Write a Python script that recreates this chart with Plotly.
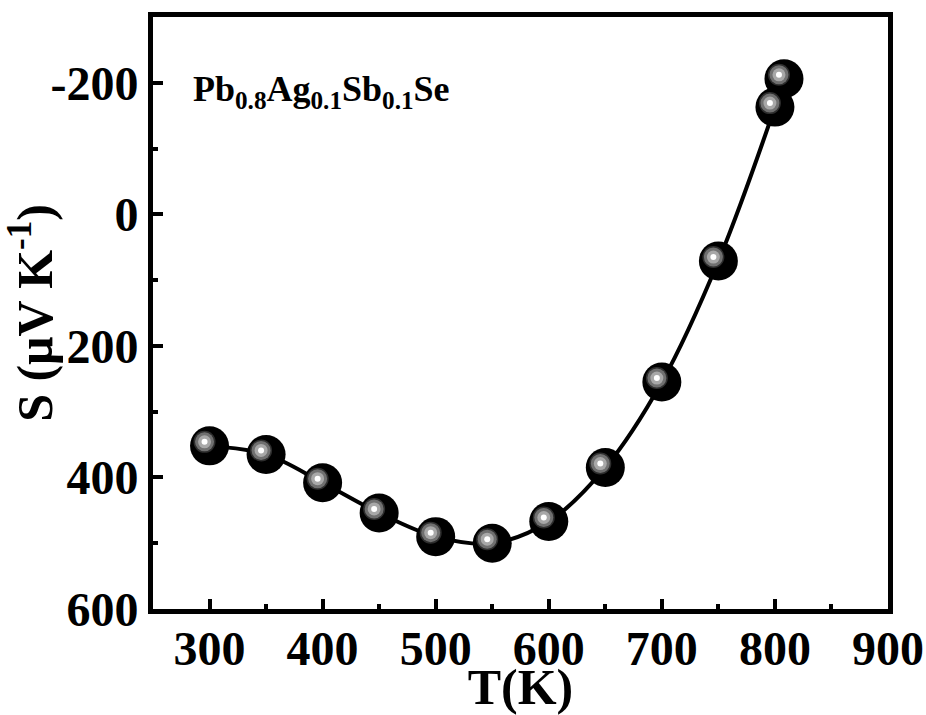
import plotly.graph_objects as go

# Data
temperature = [300, 350, 400, 450, 500, 550, 600, 650, 700, 750, 800, 808]
seebeck = [352, 365, 408, 454, 490, 500, 467, 385, 255, 71, -163, -206]

x_ticks = [300, 400, 500, 600, 700, 800, 900]
y_ticks = [-200, 0, 200, 400, 600]

FONT = "Liberation Serif"

fig = go.Figure()

fig.add_trace(go.Scatter(
    x=temperature, y=seebeck, mode="lines",
    line=dict(color="black", width=4, shape="spline", smoothing=1.0),
    hoverinfo="skip", showlegend=False,
))
fig.add_trace(go.Scatter(
    x=temperature, y=seebeck, mode="markers",
    marker=dict(color="black", size=39, line=dict(width=0)),
    showlegend=False,
))

# sphere highlights (pixel-sized circles anchored at each data point)
highlights = [(22, "#2e2e2e"), (19, "#707070"), (13, "#a8a8a8"), (6, "#ffffff")]
dx, dy = -5, 4  # pixel offset of the highlight (up-left)
for xv, yv in zip(temperature, seebeck):
    for d, col in highlights:
        r = d / 2
        fig.add_shape(
            type="circle", xref="x", yref="y",
            xsizemode="pixel", ysizemode="pixel",
            xanchor=xv, yanchor=yv,
            x0=dx - r, x1=dx + r, y0=dy - r, y1=dy + r,
            fillcolor=col, line=dict(width=0), layer="above",
        )

fig.add_annotation(
    text="<b>Pb<sub>0.8</sub>Ag<sub>0.1</sub>Sb<sub>0.1</sub>Se</b>",
    xref="paper", yref="paper", x=0.052, y=0.874,
    xanchor="left", yanchor="middle", showarrow=False,
    font=dict(family=FONT, size=36, color="black"),
)

axis_common = dict(
    showline=True, linecolor="black", linewidth=5, mirror=True,
    ticks="inside", ticklen=10, tickwidth=4, tickcolor="black",
    showgrid=False, zeroline=False, automargin=False,
    tickfont=dict(family=FONT, size=48, color="black"),
)

fig.update_xaxes(
    range=[250, 900], tickvals=x_ticks,
    ticktext=[f"<b>{v}</b>" for v in x_ticks],
    ticklabelstandoff=-7,
    minor=dict(ticks="inside", ticklen=5, tickwidth=4, tickcolor="black", dtick=50, tick0=250, showgrid=False),
    title=dict(text="<b>T(K)</b>", font=dict(family=FONT, size=50, color="black"), standoff=0),
    **axis_common,
)
fig.update_yaxes(
    range=[600, -300], tickvals=y_ticks,
    ticktext=[f"<b>{v}</b>" for v in y_ticks],
    minor=dict(ticks="inside", ticklen=5, tickwidth=4, tickcolor="black", dtick=100, tick0=-300, showgrid=False),
    title=dict(text="<b>S (μV K<sup>-1</sup>)</b>", font=dict(family=FONT, size=50, color="black"), standoff=4),
    **axis_common,
)

fig.update_layout(
    width=926, height=715,
    margin=dict(l=153, r=38, t=17, b=106),
    paper_bgcolor="white", plot_bgcolor="white",
)

fig.write_html(
    "out.html",
    config={"displayModeBar": False},
    post_script="document.body.style.margin='0';document.body.style.overflow='hidden';",
)
